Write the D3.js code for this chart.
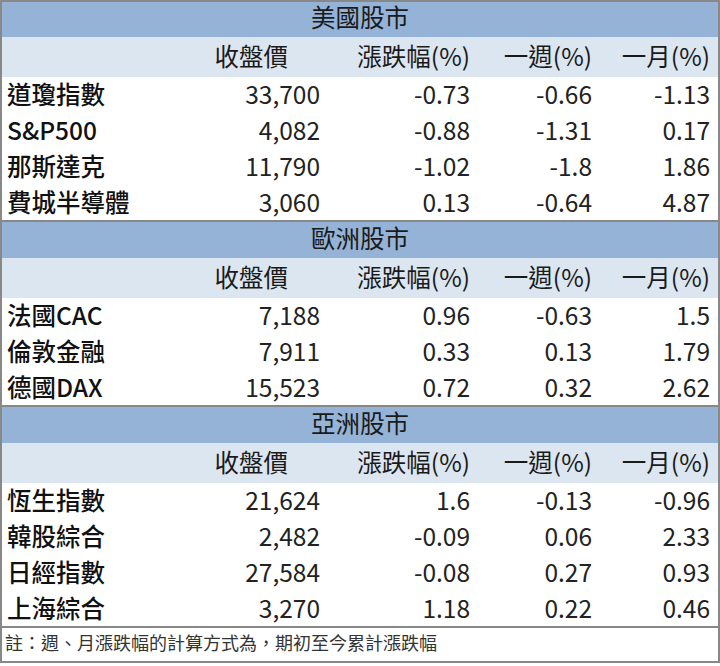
<!DOCTYPE html>
<html><head><meta charset="utf-8">
<script src="https://cdn.jsdelivr.net/npm/d3@7"></script>
<style>body{margin:0;background:#fff}</style>
</head><body>
<svg id="chart" width="720" height="666"></svg>
<script>
// table data
const sections = ['美國股市', '歐洲股市', '亞洲股市']
const columns = ['收盤價', '漲跌幅(%)', '一週(%)', '一月(%)']
const usNames = ['道瓊指數', 'S&P500', '那斯達克', '費城半導體']
const usClose = ['33,700', '4,082', '11,790', '3,060']
const usDay = [-0.73, -0.88, -1.02, 0.13]
const usWeek = [-0.66, -1.31, -1.8, -0.64]
const usMonth = [-1.13, 0.17, 1.86, 4.87]
const euNames = ['法國CAC', '倫敦金融', '德國DAX']
const euClose = ['7,188', '7,911', '15,523']
const euDay = [0.96, 0.33, 0.72]
const euWeek = [-0.63, 0.13, 0.32]
const euMonth = [1.5, 1.79, 2.62]
const asNames = ['恆生指數', '韓股綜合', '日經指數', '上海綜合']
const asClose = ['21,624', '2,482', '27,584', '3,270']
const asDay = [1.6, -0.09, -0.08, 1.18]
const asWeek = [-0.13, 0.06, 0.27, 0.22]
const asMonth = [-0.96, 2.33, 0.93, 0.46]
const note = '註：週、月漲跌幅的計算方式為，期初至今累計漲跌幅'

const groups = [
  [usNames, usClose, usDay, usWeek, usMonth],
  [euNames, euClose, euDay, euWeek, euMonth],
  [asNames, asClose, asDay, asWeek, asMonth]
]

const svg = d3.select('#chart')
const font = "'Noto Sans CJK TC', 'Noto Sans', sans-serif"
const colRight = [320, 470, 592, 710]
const headRight = [288, 470, 592, 710]
const bandH = 37, subH = 40, rowH = 36
const fs = 24.5
const fmt = v => String(v)

let y = 0
groups.forEach((g, si) => {
  svg.append('rect').attr('x', 0).attr('y', y).attr('width', 720).attr('height', bandH).attr('fill', '#95b3d7')
  svg.append('text').attr('x', 360).attr('y', y + bandH / 2).attr('dy', '0.36em')
    .attr('text-anchor', 'middle').attr('font-family', font).attr('font-size', fs).attr('fill', '#1a1a1a')
    .text(sections[si])
  svg.append('line').attr('x1', 0).attr('x2', 720).attr('y1', y).attr('y2', y).attr('stroke', '#888').attr('stroke-width', 2)
  y += bandH
  svg.append('rect').attr('x', 0).attr('y', y).attr('width', 720).attr('height', subH).attr('fill', '#dce6f1')
  columns.forEach((c, ci) => {
    svg.append('text').attr('x', headRight[ci]).attr('y', y + subH / 2).attr('dy', '0.36em')
      .attr('text-anchor', 'end').attr('font-family', font).attr('font-size', fs).attr('fill', '#1a1a1a')
      .text(c)
  })
  y += subH
  const names = g[0]
  const yScale = d3.scaleBand().domain(names).range([y, y + rowH * names.length])
  names.forEach((n, ri) => {
    const cy = yScale(n) + rowH / 2
    svg.append('text').attr('x', 7).attr('y', cy).attr('dy', '0.36em')
      .attr('font-family', font).attr('font-size', fs).attr('font-weight', 500).attr('fill', '#111').text(n)
    const vals = [g[1][ri], fmt(g[2][ri]), fmt(g[3][ri]), fmt(g[4][ri])]
    vals.forEach((v, ci) => {
      svg.append('text').attr('x', colRight[ci]).attr('y', cy).attr('dy', '0.36em')
        .attr('text-anchor', 'end').attr('font-family', font).attr('font-size', fs).attr('fill', '#222').text(v)
    })
  })
  y += rowH * names.length
})

svg.append('line').attr('x1', 0).attr('x2', 720).attr('y1', y).attr('y2', y).attr('stroke', '#888').attr('stroke-width', 2)
svg.append('text').attr('x', 5).attr('y', y + 17).attr('dy', '0.36em')
  .attr('font-family', font).attr('font-size', 18).attr('fill', '#333').text(note)
svg.append('rect').attr('x', 1).attr('y', 1).attr('width', 718).attr('height', 661)
  .attr('fill', 'none').attr('stroke', '#888').attr('stroke-width', 2)
</script>
</body></html>
